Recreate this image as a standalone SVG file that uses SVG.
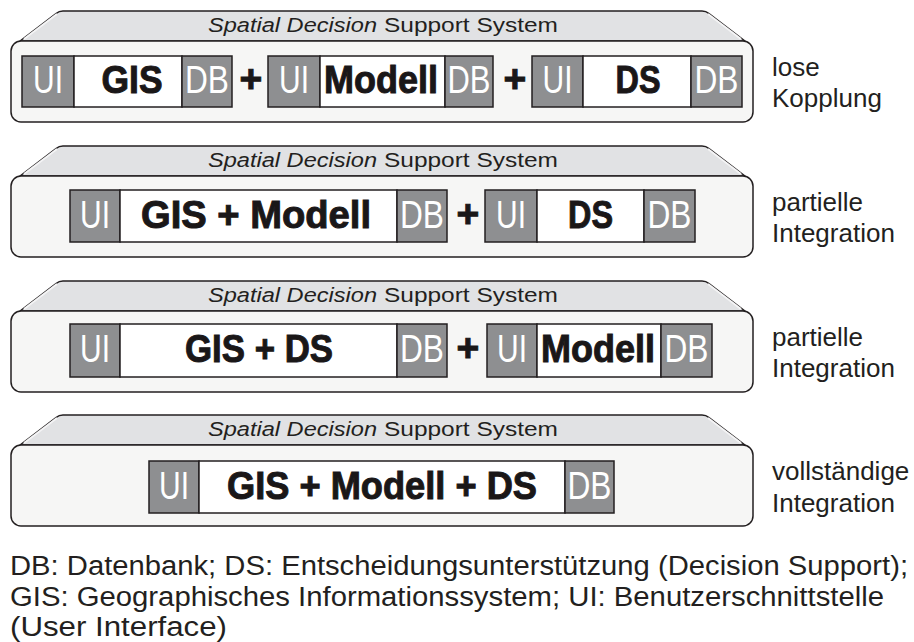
<svg xmlns="http://www.w3.org/2000/svg" width="914" height="642" viewBox="0 0 914 642">
<style>
.top{fill:#e1e2e4;stroke:#231f20;stroke-width:1.5;stroke-linejoin:round}
.face{fill:#f6f6f5;stroke:#231f20;stroke-width:1.5}
.g{fill:#8e8f91;stroke:#231f20;stroke-width:1.5}
.w{fill:#ffffff;stroke:#231f20;stroke-width:1.5}
.lt{font-family:"Liberation Sans",Arial,sans-serif;font-size:38px;fill:#ffffff;text-anchor:middle}
.bt{font-family:"Liberation Sans",Arial,sans-serif;font-size:39px;font-weight:bold;fill:#1a1718;stroke:#1a1718;stroke-width:1;text-anchor:middle}
.ti{font-family:"Liberation Sans",Arial,sans-serif;font-size:20px;fill:#231f20}
.lab{font-family:"Liberation Sans",Arial,sans-serif;font-size:26px;fill:#231f20}
.leg{font-family:"Liberation Sans",Arial,sans-serif;font-size:27px;fill:#231f20}
</style>
<defs>
<g id="frame">
<path class="top" d="M20,41 L56,13.5 Q59,11 63,11 L702,11 Q706,11 709,13.5 L745,41 Z"/>
<path d="M24,39 L57,14" stroke="#f4f4f5" stroke-width="2" fill="none"/>
<path d="M741,39 L708,14" stroke="#f4f4f5" stroke-width="2" fill="none"/>
<rect class="face" x="11" y="41" width="742" height="81" rx="10"/>
<text class="ti" x="208" y="32" font-style="italic" textLength="169" lengthAdjust="spacingAndGlyphs">Spatial Decision</text>
<text class="ti" x="384" y="32" textLength="174" lengthAdjust="spacingAndGlyphs">Support System</text>
</g>
</defs>

<g id="panel1">
<use href="#frame"/>
<g id="p1-ui1"><rect class="g" x="22" y="56" width="52" height="51"/><text class="lt" x="48" y="93" textLength="30" lengthAdjust="spacingAndGlyphs">UI</text></g>
<g id="p1-gis"><rect class="w" x="74" y="56" width="108" height="51"/><text class="bt" x="132" y="93" textLength="61" lengthAdjust="spacingAndGlyphs">GIS</text></g>
<g id="p1-db1"><rect class="g" x="182" y="56" width="50" height="51"/><text class="lt" x="207" y="93" textLength="44" lengthAdjust="spacingAndGlyphs">DB</text></g>
<text class="bt" x="251" y="92" font-size="34">+</text>
<g id="p1-ui2"><rect class="g" x="268" y="56" width="52" height="51"/><text class="lt" x="294" y="93" textLength="30" lengthAdjust="spacingAndGlyphs">UI</text></g>
<g id="p1-modell"><rect class="w" x="320" y="56" width="125" height="51"/><text class="bt" x="381" y="93" textLength="114" lengthAdjust="spacingAndGlyphs">Modell</text></g>
<g id="p1-db2"><rect class="g" x="445" y="56" width="48" height="51"/><text class="lt" x="469" y="93" textLength="43" lengthAdjust="spacingAndGlyphs">DB</text></g>
<text class="bt" x="515" y="92" font-size="34">+</text>
<g id="p1-ui3"><rect class="g" x="532" y="56" width="51" height="51"/><text class="lt" x="557.5" y="93" textLength="30" lengthAdjust="spacingAndGlyphs">UI</text></g>
<g id="p1-ds"><rect class="w" x="583" y="56" width="108" height="51"/><text class="bt" x="638" y="93" textLength="45" lengthAdjust="spacingAndGlyphs">DS</text></g>
<g id="p1-db3"><rect class="g" x="691" y="56" width="51" height="51"/><text class="lt" x="716.5" y="93" textLength="44" lengthAdjust="spacingAndGlyphs">DB</text></g>
<text class="lab" x="772" y="76">lose</text>
<text class="lab" x="772" y="107">Kopplung</text>
</g>

<g id="panel2">
<use href="#frame" transform="translate(0,135)"/>
<g id="p2-ui1"><rect class="g" x="70" y="190" width="50" height="52"/><text class="lt" x="95" y="228" textLength="30" lengthAdjust="spacingAndGlyphs">UI</text></g>
<g id="p2-gismodell"><rect class="w" x="120" y="190" width="277" height="52"/><text class="bt" x="256" y="228" textLength="230" lengthAdjust="spacingAndGlyphs">GIS + Modell</text></g>
<g id="p2-db1"><rect class="g" x="397" y="190" width="50" height="52"/><text class="lt" x="422" y="228" textLength="44" lengthAdjust="spacingAndGlyphs">DB</text></g>
<text class="bt" x="468" y="227" font-size="34">+</text>
<g id="p2-ui2"><rect class="g" x="485" y="190" width="52" height="52"/><text class="lt" x="511" y="228" textLength="30" lengthAdjust="spacingAndGlyphs">UI</text></g>
<g id="p2-ds"><rect class="w" x="537" y="190" width="107" height="52"/><text class="bt" x="590.5" y="228" textLength="45" lengthAdjust="spacingAndGlyphs">DS</text></g>
<g id="p2-db2"><rect class="g" x="644" y="190" width="51" height="52"/><text class="lt" x="669.5" y="228" textLength="44" lengthAdjust="spacingAndGlyphs">DB</text></g>
<text class="lab" x="772" y="211">partielle</text>
<text class="lab" x="772" y="242">Integration</text>
</g>

<g id="panel3">
<use href="#frame" transform="translate(0,270)"/>
<g id="p3-ui1"><rect class="g" x="70" y="324" width="50" height="53"/><text class="lt" x="95" y="362" textLength="30" lengthAdjust="spacingAndGlyphs">UI</text></g>
<g id="p3-gisds"><rect class="w" x="120" y="324" width="277" height="53"/><text class="bt" x="259" y="362" textLength="148" lengthAdjust="spacingAndGlyphs">GIS + DS</text></g>
<g id="p3-db1"><rect class="g" x="397" y="324" width="50" height="53"/><text class="lt" x="422" y="362" textLength="44" lengthAdjust="spacingAndGlyphs">DB</text></g>
<text class="bt" x="468" y="361" font-size="34">+</text>
<g id="p3-ui2"><rect class="g" x="487" y="324" width="50" height="53"/><text class="lt" x="512" y="362" textLength="30" lengthAdjust="spacingAndGlyphs">UI</text></g>
<g id="p3-modell"><rect class="w" x="537" y="324" width="124" height="53"/><text class="bt" x="598" y="362" textLength="114" lengthAdjust="spacingAndGlyphs">Modell</text></g>
<g id="p3-db2"><rect class="g" x="661" y="324" width="51" height="53"/><text class="lt" x="686.5" y="362" textLength="44" lengthAdjust="spacingAndGlyphs">DB</text></g>
<text class="lab" x="772" y="346">partielle</text>
<text class="lab" x="772" y="377">Integration</text>
</g>

<g id="panel4">
<use href="#frame" transform="translate(0,404)"/>
<g id="p4-ui"><rect class="g" x="149" y="461" width="50" height="52"/><text class="lt" x="174" y="499" textLength="30" lengthAdjust="spacingAndGlyphs">UI</text></g>
<g id="p4-all"><rect class="w" x="199" y="461" width="366" height="52"/><text class="bt" x="382" y="499" textLength="310" lengthAdjust="spacingAndGlyphs">GIS + Modell + DS</text></g>
<g id="p4-db"><rect class="g" x="565" y="461" width="49" height="52"/><text class="lt" x="589.5" y="499" textLength="44" lengthAdjust="spacingAndGlyphs">DB</text></g>
<text class="lab" x="772" y="480">vollständige</text>
<text class="lab" x="772" y="512">Integration</text>
</g>

<g id="connectors"></g>

<g id="legend">
<text class="leg" x="10" y="575" textLength="898" lengthAdjust="spacingAndGlyphs">DB: Datenbank; DS: Entscheidungsunterstützung (Decision Support);</text>
<text class="leg" x="10" y="606" textLength="874" lengthAdjust="spacingAndGlyphs">GIS: Geographisches Informationssystem; UI: Benutzerschnittstelle</text>
<text class="leg" x="10" y="636" textLength="217" lengthAdjust="spacingAndGlyphs">(User Interface)</text>
</g>
</svg>
